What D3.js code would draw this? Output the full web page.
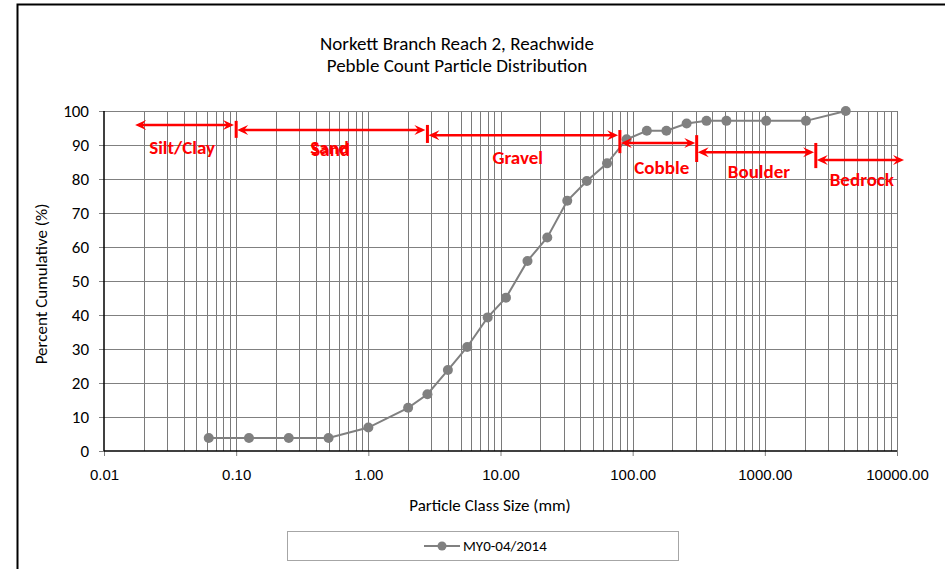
<!DOCTYPE html>
<html>
<head>
<meta charset="utf-8">
<script src="https://cdn.jsdelivr.net/npm/d3@7"></script>
<style>
  body { margin: 0; background: #fff; }
  svg { display: block; }
</style>
</head>
<body>
<svg id="chart" width="945" height="570"></svg>
<script>
// ---------------- data ----------------
const titleLines = ["Norkett Branch Reach 2, Reachwide", "Pebble Count Particle Distribution"];
const seriesName = "MY0-04/2014";
const sizes = [0.062, 0.125, 0.25, 0.5, 1, 2, 2.8, 4, 5.6, 8, 11, 16, 22.6, 32, 45, 64, 90, 128, 180, 256, 362, 512, 1024, 2048, 4096];
const cumulative = [3.8, 3.8, 3.8, 3.8, 6.9, 12.7, 16.7, 23.8, 30.6, 39.3, 45.1, 55.9, 62.8, 73.6, 79.4, 84.6, 91.7, 94.2, 94.2, 96.3, 97.1, 97.1, 97.1, 97.1, 100];
const xTicks = [0.01, 0.1, 1, 10, 100, 1000, 10000];
const yTicks = [0, 10, 20, 30, 40, 50, 60, 70, 80, 90, 100];
// class annotations (data units: size in mm, percent)
const classNames = ["Silt/Clay", "Sand", "Gravel", "Cobble", "Boulder", "Bedrock"];
const arrowFrom = [0.0169, 0.1, 2.8, 80, 305, 2430];
const arrowTo   = [0.098, 2.75, 79, 303, 2400, 11500];
const arrowAt   = [95.9, 94.4, 92.9, 90.6, 87.9, 85.6];
const tickTop   = [null, 97.1, 95.9, 94.4, 92.9, 90.6];
const tickBot   = [null, 92.1, 90.6, 87.6, 85.0, 83.2];
const labelX    = [0.039, 0.51, 13.5, 166, 902, 5420];
const labelY    = [89.4, 89.4, 86.5, 83.5, 82.4, 80.0];

// ---------------- chart ----------------
const svg = d3.select("#chart");
const x = d3.scaleLog().domain([0.01, 10000]).range([104, 897]);
const y = d3.scaleLinear().domain([0, 100]).range([451, 111]);
const calibri = "Carlito, Calibri, Lato, 'Open Sans', sans-serif";

// outer border
svg.append("path").attr("d", "M945,4.5 H17.5 V569").attr("fill", "none").attr("stroke", "#000").attr("stroke-width", 2);

// title
svg.append("g").selectAll("text").data(titleLines).join("text")
  .attr("x", 457).attr("y", (d, i) => 50 + i * 22)
  .attr("text-anchor", "middle")
  .attr("font-family", calibri).attr("font-size", 19).attr("fill", "#000")
  .text(d => d);

// minor/major vertical gridlines
const gridX = [];
for (let e = -2; e < 4; e++) for (let m = 1; m <= 9; m++) gridX.push(m * Math.pow(10, e));
gridX.push(10000);
svg.append("g").selectAll("line").data(gridX.filter(v => v > 0.01)).join("line")
  .attr("x1", d => Math.round(x(d)) + 0.5).attr("x2", d => Math.round(x(d)) + 0.5)
  .attr("y1", y(100)).attr("y2", y(0))
  .attr("stroke", "#7a7a7a").attr("stroke-width", 1);

// horizontal gridlines
svg.append("g").selectAll("line").data(yTicks.filter(v => v > 0)).join("line")
  .attr("x1", x(0.01)).attr("x2", x(10000))
  .attr("y1", d => Math.round(y(d)) + 0.5).attr("y2", d => Math.round(y(d)) + 0.5)
  .attr("stroke", "#808080").attr("stroke-width", 1);

// axes
const xAxis = d3.axisBottom(x).tickValues(xTicks).tickFormat(d3.format(".2f")).tickSize(5).tickPadding(13);
const gx = svg.append("g").attr("transform", `translate(0,${y(0)})`).call(xAxis);
gx.select(".domain").remove();
gx.selectAll(".tick line").attr("stroke", "#808080");
gx.selectAll(".tick text").attr("font-family", "'Liberation Sans', Arial, sans-serif").attr("font-size", 15).attr("fill", "#000");

const yAxis = d3.axisLeft(y).tickValues(yTicks).tickSize(5).tickPadding(10);
const gy = svg.append("g").attr("transform", `translate(${x(0.01)},0)`).call(yAxis);
gy.select(".domain").remove();
gy.selectAll(".tick line").attr("stroke", "#808080");
gy.selectAll(".tick text").attr("font-family", calibri).attr("font-size", 17).attr("fill", "#000");

svg.append("line").attr("x1", x(0.01)).attr("x2", x(10000)).attr("y1", y(0)).attr("y2", y(0))
  .attr("stroke", "#000").attr("stroke-width", 1.5);
svg.append("line").attr("x1", x(0.01)).attr("x2", x(0.01)).attr("y1", y(100)).attr("y2", y(0))
  .attr("stroke", "#000").attr("stroke-width", 1.5);

// axis titles
svg.append("text").attr("x", 490).attr("y", 511).attr("text-anchor", "middle")
  .attr("font-family", calibri).attr("font-size", 17).text("Particle Class Size (mm)");
svg.append("text").attr("transform", "translate(47,284) rotate(-90)").attr("text-anchor", "middle")
  .attr("font-family", calibri).attr("font-size", 17).text("Percent Cumulative (%)");

// data line
const pts = sizes.map((s, i) => [s, cumulative[i]]);
svg.append("path").datum(pts)
  .attr("d", d3.line().x(d => x(d[0])).y(d => y(d[1])))
  .attr("fill", "none").attr("stroke", "#808080").attr("stroke-width", 2);
svg.append("g").selectAll("circle").data(pts).join("circle")
  .attr("cx", d => x(d[0])).attr("cy", d => y(d[1])).attr("r", 5)
  .attr("fill", "#808080");

// class annotations
const red = "#ff0000";
const ann = svg.append("g");
function arrowHead(px, py, dir) {
  const L = 11, W = 5, notch = 4;
  return `M${px},${py} L${px - dir * L},${py - W} L${px - dir * (L - notch)},${py} L${px - dir * L},${py + W} Z`;
}
classNames.forEach((name, i) => {
  const x1 = x(arrowFrom[i]) + 1, x2 = x(arrowTo[i]) - 1, yy = y(arrowAt[i]);
  ann.append("line").attr("x1", x1 + 4).attr("x2", x2 - 4).attr("y1", yy).attr("y2", yy)
    .attr("stroke", red).attr("stroke-width", 2.5);
  ann.append("path").attr("d", arrowHead(x1, yy, -1)).attr("fill", red);
  ann.append("path").attr("d", arrowHead(x2, yy, 1)).attr("fill", red);
  if (tickTop[i] !== null) {
    ann.append("line").attr("x1", x(arrowFrom[i])).attr("x2", x(arrowFrom[i]))
      .attr("y1", y(tickTop[i])).attr("y2", y(tickBot[i]))
      .attr("stroke", red).attr("stroke-width", 3);
  }
  const reps = name === "Sand" ? [[0, 0], [1, 1.5]] : [[0, 0]];
  reps.forEach(([dx, dy]) => {
    ann.append("text").attr("x", x(labelX[i]) + dx).attr("y", y(labelY[i]) + 7 + dy)
      .attr("text-anchor", "middle").attr("font-family", calibri).attr("font-weight", "bold")
      .attr("font-size", 19).attr("fill", red).text(name);
  });
});

// legend
const lg = svg.append("g");
lg.append("rect").attr("x", 287.5).attr("y", 531.5).attr("width", 391).attr("height", 29)
  .attr("fill", "#fff").attr("stroke", "#a6a6a6").attr("stroke-width", 1);
lg.append("line").attr("x1", 424).attr("x2", 460).attr("y1", 546).attr("y2", 546)
  .attr("stroke", "#808080").attr("stroke-width", 2);
lg.append("circle").attr("cx", 442).attr("cy", 546).attr("r", 4.5).attr("fill", "#808080");
lg.append("text").attr("x", 463).attr("y", 551).attr("font-family", calibri).attr("font-size", 15)
  .text(seriesName);
</script>
</body>
</html>
